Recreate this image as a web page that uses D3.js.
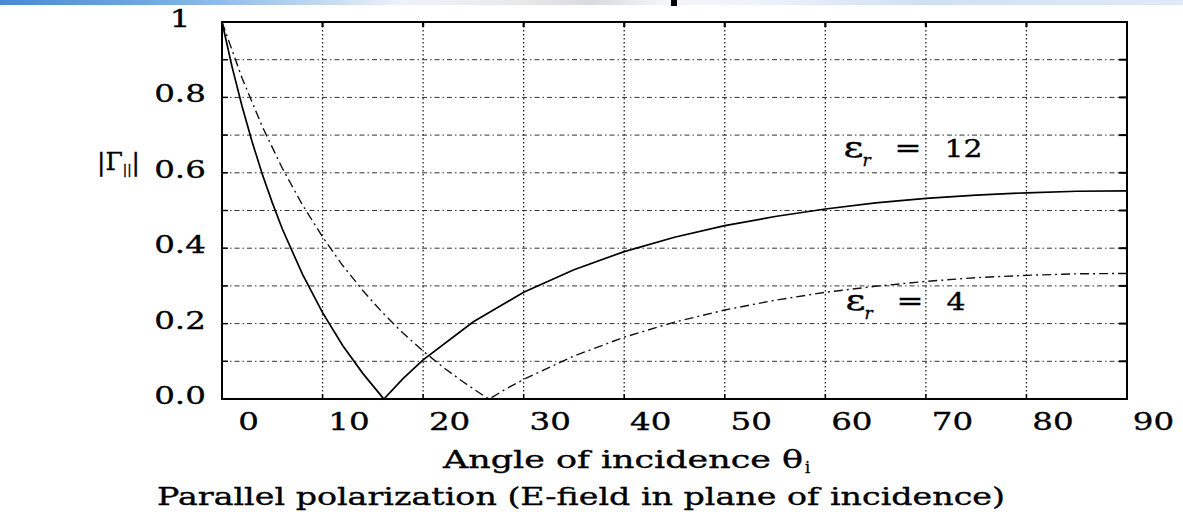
<!DOCTYPE html>
<html><head><meta charset="utf-8">
<script src="https://cdn.jsdelivr.net/npm/d3@7"></script>
<style>
body{margin:0;background:#fff;}
svg{display:block;}
text{font-family:"DejaVu Serif","Liberation Serif",serif;fill:#000;stroke:#000;stroke-width:0.35px;}
</style>
</head><body>
<svg id="c" width="1183" height="512"></svg>
<script>
// ---- data ----
const xTicks = [0, 10, 20, 30, 40, 50, 60, 70, 80, 90];
const yGrid = [0, 0.1, 0.2, 0.3, 0.4, 0.5, 0.6, 0.7, 0.8, 0.9, 1];
const yTicks = [0, 0.2, 0.4, 0.6, 0.8, 1];
const angles12 = [0, 1, 2, 3, 4, 5, 6, 8, 10, 12, 14, 16, 16.1, 18, 20, 25, 30, 35, 40, 45, 50, 55, 60, 65, 70, 75, 80, 85, 90];
const gamma12  = [1.000, 0.881, 0.776, 0.682, 0.597, 0.521, 0.451, 0.331, 0.229, 0.142, 0.068, 0.003, 0.000, 0.054, 0.104, 0.205, 0.283, 0.343, 0.391, 0.429, 0.460, 0.484, 0.504, 0.520, 0.532, 0.541, 0.547, 0.551, 0.552];
const angles4 = [0, 2, 4, 6, 8, 10, 12, 14, 16, 18, 20, 22, 24, 26, 26.6, 28, 30, 35, 40, 45, 50, 55, 60, 65, 70, 75, 80, 85, 90];
const gamma4  = [1.000, 0.851, 0.723, 0.612, 0.515, 0.430, 0.354, 0.288, 0.228, 0.175, 0.127, 0.084, 0.045, 0.009, 0.000, 0.023, 0.052, 0.114, 0.164, 0.204, 0.236, 0.262, 0.283, 0.299, 0.312, 0.322, 0.328, 0.332, 0.333];
const seriesNames = ["12", "4"];
const xTitle = "Angle of incidence θ";
const xTitleSub = "i";
const subTitle = "Parallel polarization (E-field in plane of incidence)";

// ---- layout ----
const svg = d3.select("#c");
const L = 222, R = 1127, T = 22, B = 399;
const x = d3.scaleLinear().domain([0, 90]).range([L, R]);
const y = d3.scaleLinear().domain([0, 1]).range([B, T]);

function stretch(sel, f) {
  sel.each(function () {
    const w = this.getComputedTextLength();
    d3.select(this).attr("textLength", w * f).attr("lengthAdjust", "spacingAndGlyphs");
  });
}

// top banner
const defs = svg.append("defs");
const g1 = defs.append("linearGradient").attr("id", "ban");
[[0, "#4a8ad4"], [0.12, "#6fa6e0"], [0.26, "#b9d5f0"], [0.34, "#eef3f9"], [0.44, "#e9e9ea"], [0.5, "#d9dadc"], [0.56, "#f4f5f7"], [0.64, "#eef3fa"], [0.78, "#cfe0f3"], [1, "#dfeaf7"]]
  .forEach(s => g1.append("stop").attr("offset", s[0]).attr("stop-color", s[1]));
svg.append("rect").attr("x", 0).attr("y", 0).attr("width", 1183).attr("height", 5).attr("fill", "url(#ban)");
svg.append("rect").attr("x", 671).attr("y", 0).attr("width", 6).attr("height", 6).attr("fill", "#000");

// grid
svg.append("g").selectAll("line").data(xTicks.slice(1, -1)).join("line")
  .attr("x1", d => x(d)).attr("x2", d => x(d)).attr("y1", T).attr("y2", B)
  .attr("stroke", "#222").attr("stroke-width", 1.3).attr("stroke-dasharray", "1.5,2.5");
svg.append("g").selectAll("line").data(yGrid.slice(1, -1)).join("line")
  .attr("x1", L).attr("x2", R).attr("y1", d => y(d)).attr("y2", d => y(d))
  .attr("stroke", "#333").attr("stroke-width", 1).attr("stroke-dasharray", "5,3,1.5,3");

// frame ticks
const tk = svg.append("g").attr("stroke", "#000");
tk.selectAll(".tt").data(xTicks.slice(1, -1)).join("line").attr("class", "tt")
  .attr("x1", d => x(d)).attr("x2", d => x(d)).attr("y1", T).attr("y2", T + 5).attr("stroke-width", 2.2);
tk.selectAll(".tb").data(xTicks.slice(1, -1)).join("line").attr("class", "tb")
  .attr("x1", d => x(d)).attr("x2", d => x(d)).attr("y1", B).attr("y2", B - 5).attr("stroke-width", 1.5);
tk.selectAll(".tl").data(yGrid.slice(1, -1)).join("line").attr("class", "tl")
  .attr("x1", L).attr("x2", L + 6).attr("y1", d => y(d)).attr("y2", d => y(d)).attr("stroke-width", 1.4);
tk.selectAll(".tr").data(yGrid.slice(1, -1)).join("line").attr("class", "tr")
  .attr("x1", R).attr("x2", R - 8).attr("y1", d => y(d)).attr("y2", d => y(d)).attr("stroke-width", 2);

// frame
svg.append("rect").attr("x", L).attr("y", T).attr("width", R - L).attr("height", B - T)
  .attr("fill", "none").attr("stroke", "#000").attr("stroke-width", 2);

// curves
const line = d3.line().x(d => x(d[0])).y(d => y(d[1]));
svg.append("path").datum(angles12.map((a, i) => [a, gamma12[i]]))
  .attr("d", line).attr("fill", "none").attr("stroke", "#000").attr("stroke-width", 1.7);
svg.append("path").datum(angles4.map((a, i) => [a, gamma4[i]]))
  .attr("d", line).attr("fill", "none").attr("stroke", "#111").attr("stroke-width", 1.4)
  .attr("stroke-dasharray", "9,4,2,4");

// x tick labels (shifted right as in reference)
const xa = svg.append("g").attr("transform", `translate(0,${B})`)
  .call(d3.axisBottom(x).tickValues(xTicks).tickSize(0).tickPadding(0).tickFormat(d3.format("d")));
xa.select(".domain").remove();
xa.selectAll("text").attr("x", 26).attr("y", 31).attr("dy", 0)
  .style("font-size", "25px").style("font-family", "DejaVu Serif").attr("fill", "#000");
stretch(xa.selectAll("text"), 1.3);

// y tick labels
const ya = svg.append("g").attr("transform", `translate(${L},0)`)
  .call(d3.axisLeft(y).tickValues(yTicks).tickSize(0).tickPadding(0).tickFormat(d => d === 1 ? "1" : d3.format(".1f")(d)));
ya.select(".domain").remove();
ya.selectAll("text").attr("x", -42).attr("dy", 0).attr("y", 4.5)
  .attr("text-anchor", "middle").style("font-size", "25px").style("font-family", "DejaVu Serif").attr("fill", "#000");
stretch(ya.selectAll("text"), 1.3);

// y label |Γ||
const yl = svg.append("text").attr("x", 97).attr("y", 170).style("font-size", "25px");
yl.append("tspan").text("|Γ");
yl.append("tspan").attr("dy", 4).style("font-size", "13px").text("||");
yl.append("tspan").attr("dy", -4).text("|");

// x title
svg.append("text").attr("x", 443).attr("y", 468).style("font-size", "25px").text(xTitle)
  .attr("textLength", 360).attr("lengthAdjust", "spacingAndGlyphs");
svg.append("text").attr("x", 805).attr("y", 473).style("font-size", "16px").text(xTitleSub);

// subtitle
svg.append("text").attr("x", 157).attr("y", 505).style("font-size", "25px").text(subTitle)
  .attr("textLength", 848).attr("lengthAdjust", "spacingAndGlyphs");

// series labels: ε_r = value
const labAnchor = [[61.8, 0.642], [62.0, 0.236]];
seriesNames.forEach((nm, i) => {
  const px = x(labAnchor[i][0]), py = y(labAnchor[i][1]);
  const g = svg.append("g").attr("transform", `translate(${px},${py})`);
  g.append("text").attr("x", 0).attr("y", 0).style("font-size", "27px").text("ε")
    .attr("textLength", 20).attr("lengthAdjust", "spacingAndGlyphs");
  g.append("text").attr("x", 19).attr("y", 9).style("font-size", "17px").style("font-style", "italic").text("r");
  g.append("text").attr("x", 51).attr("y", 0).style("font-size", "26px").text("=")
    .attr("textLength", 27).attr("lengthAdjust", "spacingAndGlyphs");
  g.append("text").attr("x", 101).attr("y", 0).style("font-size", "25px").text(nm)
    .attr("textLength", nm.length * 19).attr("lengthAdjust", "spacingAndGlyphs");
});
</script>
</body></html>
